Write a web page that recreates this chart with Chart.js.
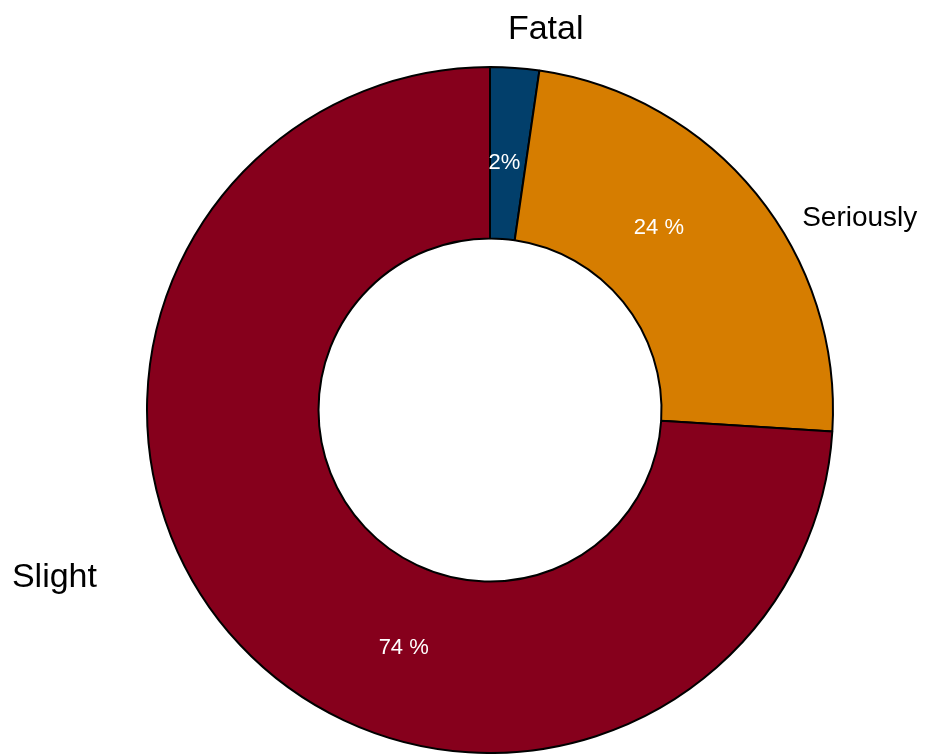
<!DOCTYPE html>
<html>
<head>
<meta charset="utf-8">
<script src="https://cdn.jsdelivr.net/npm/chart.js@4"></script>
<style>
  html, body { margin: 0; padding: 0; background: #ffffff; }
  canvas { display: block; }
</style>
</head>
<body>
<canvas id="c" width="926" height="754"></canvas>
<script>
const categories = ['Fatal', 'Seriously', 'Slight'];
const values = [2.3, 23.7, 74.0];
const percentLabels = ['2%', '24 %', '74 %'];
const colors = ['#023F6B', '#D67D00', '#86001C'];

// label placement: fraction along slice angle, radial offset beyond outer edge, alignment, font size
const outerLabelStyle = [
  { f: 1.0, off: 44, align: 'center', size: 34 },
  { f: 0.583, off: 25, align: 'left', size: 28 },
  { f: 0.577, off: 83, align: 'right', size: 34 }
];

const labelPlugin = {
  id: 'sliceLabels',
  afterDatasetsDraw(chart) {
    const ctx = chart.ctx;
    const meta = chart.getDatasetMeta(0);
    ctx.save();
    meta.data.forEach((arc, i) => {
      const p = arc.getProps(['x', 'y', 'startAngle', 'endAngle', 'innerRadius', 'outerRadius'], true);
      // percent labels inside the ring
      const a = p.startAngle + 0.4 * (p.endAngle - p.startAngle);
      const r = p.innerRadius + 0.46 * (p.outerRadius - p.innerRadius);
      ctx.fillStyle = '#ffffff';
      ctx.font = '22px "Liberation Sans", Arial, sans-serif';
      ctx.textAlign = 'center';
      ctx.textBaseline = 'middle';
      ctx.fillText(percentLabels[i], p.x + Math.cos(a) * r, p.y + Math.sin(a) * r + 3);
      // category labels outside
      const s = outerLabelStyle[i];
      const a2 = p.startAngle + s.f * (p.endAngle - p.startAngle);
      const r2 = p.outerRadius + s.off;
      ctx.fillStyle = '#000000';
      ctx.font = s.size + 'px "Liberation Sans", Arial, sans-serif';
      ctx.textAlign = s.align;
      ctx.fillText(categories[i], p.x + Math.cos(a2) * r2, p.y + Math.sin(a2) * r2 + 3);
    });
    ctx.restore();
  }
};

new Chart(document.getElementById('c'), {
  type: 'doughnut',
  data: {
    labels: categories,
    datasets: [{
      data: values,
      backgroundColor: colors,
      borderColor: '#000000',
      borderWidth: 2
    }]
  },
  options: {
    responsive: false,
    animation: false,
    cutout: '50%',
    layout: { padding: { top: 66, bottom: 0, left: 54, right: 0 } },
    plugins: {
      legend: { display: false },
      tooltip: { enabled: false }
    }
  },
  plugins: [labelPlugin]
});
</script>
</body>
</html>
